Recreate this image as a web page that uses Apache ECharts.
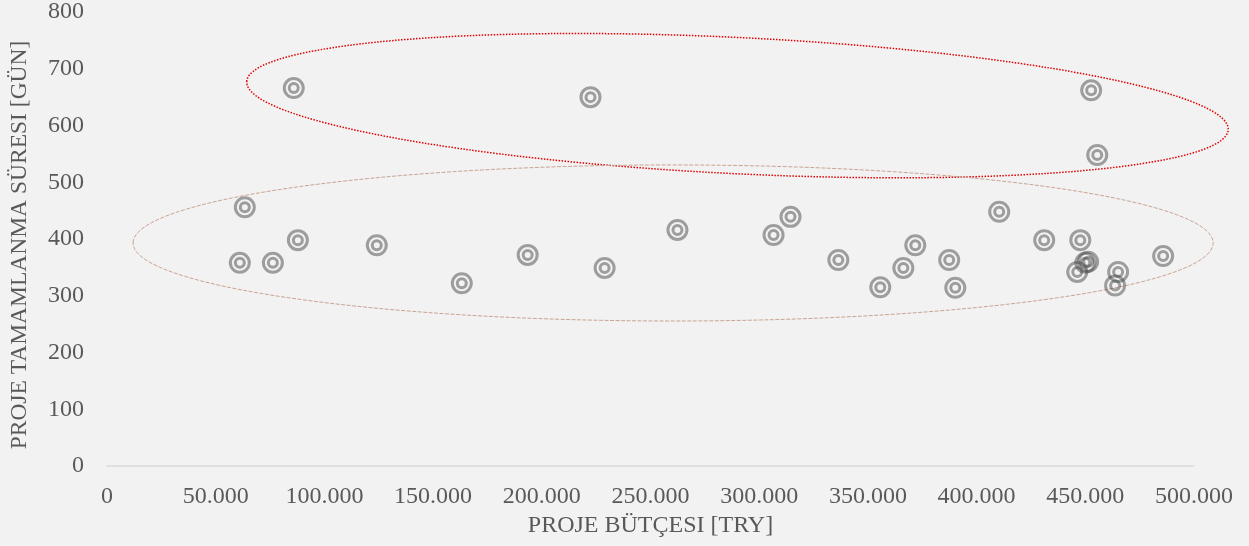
<!DOCTYPE html>
<html>
<head>
<meta charset="utf-8">
<script src="https://cdn.jsdelivr.net/npm/echarts@6/dist/echarts.min.js"></script>
<style>
html,body{margin:0;padding:0;background:#f2f2f2;}
#c{width:1249px;height:546px;}
</style>
</head>
<body>
<div id="c"></div>
<script>
// Data: project budget [TRY] and completion duration [days]
var budget = [61100, 63400, 76300, 85900, 87800, 124100, 163200, 193500, 222400, 228900,
              262400, 306600, 314400, 336400, 355700, 366300, 371800, 387400, 390200, 410400,
              431100, 446300, 447700, 450000, 451300, 452700, 455500, 463700, 465100, 485800];
var duration = [358, 456, 358, 666, 398, 389, 322, 372, 650, 349,
                416, 407, 439, 363, 315, 349, 389, 363, 314, 448,
                398, 342, 398, 358, 360, 662, 548, 318, 342, 370];
var xTicks = [0, 50000, 100000, 150000, 200000, 250000, 300000, 350000, 400000, 450000, 500000];
var yTicks = [0, 100, 200, 300, 400, 500, 600, 700, 800];

// Annotation ellipses (data space centre, radii in data units, rotation in degrees)
var topGroupEllipse = {cx: 290000, cy: 635, rx: 226000, ry: 120, angle: -2.8};
var mainGroupEllipse = {cx: 260400, cy: 393, rx: 248400, ry: 137.5, angle: 0};

var points = budget.map(function (b, i) { return [b, duration[i]]; });
var font = '"Liberation Serif", "DejaVu Serif", serif';
var txt = '#595959';
var markColor = 'rgba(70,70,70,0.62)';

var chart = echarts.init(document.getElementById('c'));
chart.setOption({
  backgroundColor: '#f2f2f2',
  animation: false,
  grid: {left: 105, right: 55, top: 12, bottom: 80},
  xAxis: {
    type: 'value', min: xTicks[0], max: xTicks[xTicks.length - 1], interval: 50000,
    name: 'PROJE BÜTÇESI [TRY]', nameLocation: 'middle', nameGap: 44,
    nameTextStyle: {fontFamily: font, fontSize: 24, color: txt},
    axisLine: {show: true, lineStyle: {color: '#d9d9d9', width: 1.5}},
    axisTick: {show: false},
    splitLine: {show: false},
    axisLabel: {
      fontFamily: font, fontSize: 24, color: txt, margin: 19,
      formatter: function (v) { return v === 0 ? '0' : v.toLocaleString('de-DE'); }
    }
  },
  yAxis: {
    type: 'value', min: yTicks[0], max: yTicks[yTicks.length - 1], interval: 100,
    name: 'PROJE TAMAMLANMA SÜRESI [GÜN]', nameLocation: 'middle', nameGap: 75, nameRotate: 90,
    nameTextStyle: {fontFamily: font, fontSize: 23.5, color: txt, padding: [0, 12, 0, 0]},
    axisLine: {show: false}, axisTick: {show: false}, splitLine: {show: false},
    axisLabel: {fontFamily: font, fontSize: 24, color: txt, margin: 23}
  },
  series: [
    {type: 'scatter', data: points, symbol: 'circle', symbolSize: 19,
     itemStyle: {color: 'rgba(0,0,0,0)', borderColor: markColor, borderWidth: 3}},
    {type: 'scatter', data: points, symbol: 'circle', symbolSize: 9,
     itemStyle: {color: 'rgba(0,0,0,0)', borderColor: markColor, borderWidth: 3}}
  ]
});

function ellipseGraphic(e, color, width, dash) {
  var c = chart.convertToPixel({gridIndex: 0}, [e.cx, e.cy]);
  var px = chart.convertToPixel({gridIndex: 0}, [e.cx + e.rx, e.cy + e.ry]);
  var rx = Math.abs(px[0] - c[0]), ry = Math.abs(px[1] - c[1]);
  return {
    type: 'ellipse', x: c[0], y: c[1], rotation: e.angle * Math.PI / 180,
    shape: {cx: 0, cy: 0, rx: rx, ry: ry}, silent: true, z: 1,
    style: {fill: null, stroke: color, lineWidth: width, lineDash: dash}
  };
}
chart.setOption({
  graphic: [
    ellipseGraphic(topGroupEllipse, '#e00000', 1.5, [1.5, 1.5]),
    ellipseGraphic(mainGroupEllipse, '#c9a594', 1, [4, 1.5])
  ]
});
</script>
</body>
</html>
